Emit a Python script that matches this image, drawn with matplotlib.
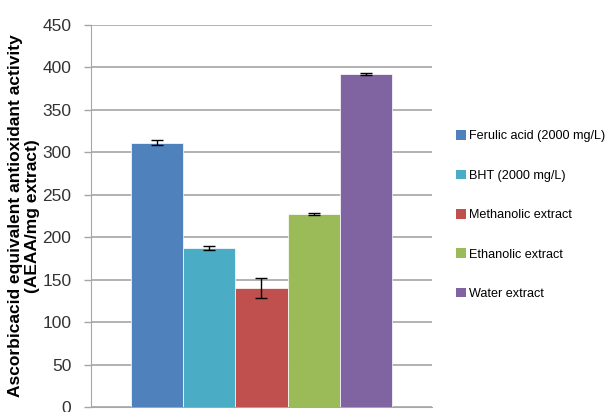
import matplotlib
matplotlib.use("Agg")
import matplotlib.pyplot as plt
from matplotlib.patches import Patch

categories = ["Ferulic acid (2000 mg/L)", "BHT (2000 mg/L)", "Methanolic extract",
              "Ethanolic extract", "Water extract"]
values = [311, 187, 140, 227, 392]
errors = [3, 2, 11.5, 1, 1]
colors = ["#4F81BD", "#4BACC6", "#C0504D", "#9BBB59", "#8064A2"]
yticks = [0, 50, 100, 150, 200, 250, 300, 350, 400, 450]

plt.rcParams['font.family'] = ['Liberation Sans', 'DejaVu Sans']

fig = plt.figure(figsize=(6.1, 4.12), dpi=100)
ax = fig.add_axes([0.149, 0.012, 0.559, 0.9285])

x = [i for i in range(len(values))]
ax.bar(x, values, width=1.0, color=colors, edgecolor="white", linewidth=0.5,
       yerr=errors, capsize=4, error_kw=dict(ecolor="black", elinewidth=1, capthick=1),
       zorder=3)
ax.set_xlim(-1.26, 5.26)
ax.set_ylim(0, 450)
ax.set_yticks(yticks)
ax.set_yticklabels([str(t) for t in yticks], fontsize=12.5, color="#333333")
ax.yaxis.grid(True, color="#A6A6A6", linewidth=1.2, zorder=0)
ax.set_xticks([])
for s in ["top", "right"]:
    ax.spines[s].set_visible(False)
ax.spines["left"].set_color("#A6A6A6")
ax.spines["bottom"].set_color("#A6A6A6")
ax.tick_params(axis="y", color="#A6A6A6", length=5, width=1, pad=9)

ax.set_ylabel("Ascorbicacid equivalent antioxidant activity\n(AEAA/mg extract)",
              fontsize=12.5, fontweight="bold", linespacing=1.15)
ax.yaxis.set_label_coords(-0.15, 0.5)

handles = [Patch(facecolor=c, edgecolor="none") for c in colors]
fig.legend(handles, categories, loc="center left", bbox_to_anchor=(0.733, 0.478),
           frameon=False, fontsize=9.1, handlelength=0.8, handleheight=0.8,
           handletextpad=0.25, labelspacing=2.15, borderpad=0.2)

fig.savefig("out.png", dpi=100)
